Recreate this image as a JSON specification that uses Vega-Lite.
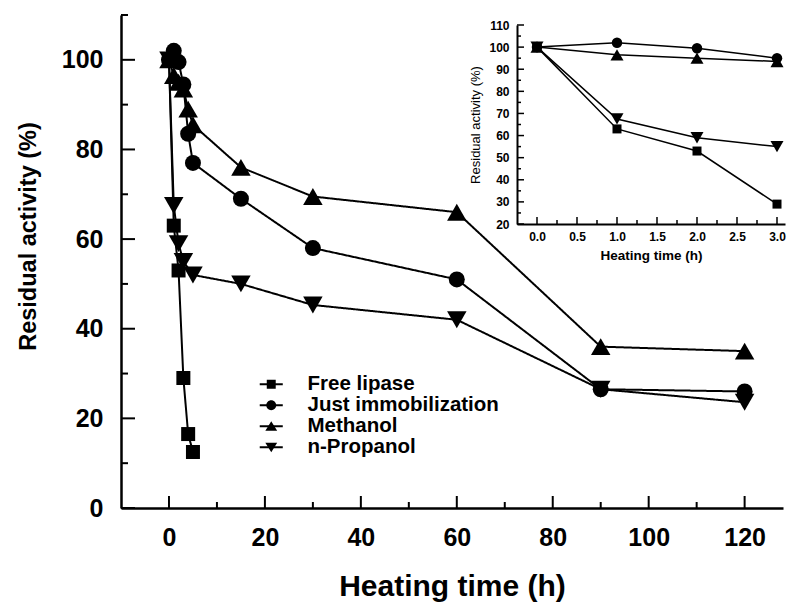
{
  "$schema": "https://vega.github.io/schema/vega-lite/v6.json",
  "width": 662,
  "height": 493,
  "autosize": "none",
  "padding": {"left": 121, "top": 15, "right": 6, "bottom": 96},
  "background": "white",
  "config": {
    "view": {"stroke": null},
    "font": "Liberation Sans",
    "axis": {"grid": false, "ticks": false, "domainColor": "black", "labelColor": "black", "titleColor": "black", "labelFont": "Liberation Sans", "titleFont": "Liberation Sans"}
  },
  "datasets": {
    "main": [
      {"series": "Free lipase", "time": 0, "activity": 100},
      {"series": "Free lipase", "time": 1, "activity": 63},
      {"series": "Free lipase", "time": 2, "activity": 53},
      {"series": "Free lipase", "time": 3, "activity": 29},
      {"series": "Free lipase", "time": 4, "activity": 16.5},
      {"series": "Free lipase", "time": 5, "activity": 12.5},
      {"series": "Just immobilization", "time": 0, "activity": 100},
      {"series": "Just immobilization", "time": 1, "activity": 102},
      {"series": "Just immobilization", "time": 2, "activity": 99.5},
      {"series": "Just immobilization", "time": 3, "activity": 94.5},
      {"series": "Just immobilization", "time": 4, "activity": 83.5},
      {"series": "Just immobilization", "time": 5, "activity": 77},
      {"series": "Just immobilization", "time": 15, "activity": 69},
      {"series": "Just immobilization", "time": 30, "activity": 58},
      {"series": "Just immobilization", "time": 60, "activity": 51},
      {"series": "Just immobilization", "time": 90, "activity": 26.5},
      {"series": "Just immobilization", "time": 120, "activity": 26},
      {"series": "Methanol", "time": 0, "activity": 100},
      {"series": "Methanol", "time": 1, "activity": 96.5},
      {"series": "Methanol", "time": 2, "activity": 95},
      {"series": "Methanol", "time": 3, "activity": 93.5},
      {"series": "Methanol", "time": 4, "activity": 89},
      {"series": "Methanol", "time": 5, "activity": 85.5},
      {"series": "Methanol", "time": 15, "activity": 76},
      {"series": "Methanol", "time": 30, "activity": 69.5},
      {"series": "Methanol", "time": 60, "activity": 66},
      {"series": "Methanol", "time": 90, "activity": 36},
      {"series": "Methanol", "time": 120, "activity": 35},
      {"series": "n-Propanol", "time": 0, "activity": 100},
      {"series": "n-Propanol", "time": 1, "activity": 67.5},
      {"series": "n-Propanol", "time": 2, "activity": 59},
      {"series": "n-Propanol", "time": 3, "activity": 55},
      {"series": "n-Propanol", "time": 5, "activity": 52},
      {"series": "n-Propanol", "time": 15, "activity": 50},
      {"series": "n-Propanol", "time": 30, "activity": 45.3},
      {"series": "n-Propanol", "time": 60, "activity": 42},
      {"series": "n-Propanol", "time": 90, "activity": 26.5},
      {"series": "n-Propanol", "time": 120, "activity": 23.6}
    ],
    "inset": [
      {"series": "Free lipase", "time": 0, "activity": 100},
      {"series": "Free lipase", "time": 1, "activity": 63},
      {"series": "Free lipase", "time": 2, "activity": 53},
      {"series": "Free lipase", "time": 3, "activity": 29},
      {"series": "Just immobilization", "time": 0, "activity": 100},
      {"series": "Just immobilization", "time": 1, "activity": 102},
      {"series": "Just immobilization", "time": 2, "activity": 99.5},
      {"series": "Just immobilization", "time": 3, "activity": 95},
      {"series": "Methanol", "time": 0, "activity": 100},
      {"series": "Methanol", "time": 1, "activity": 96.5},
      {"series": "Methanol", "time": 2, "activity": 95},
      {"series": "Methanol", "time": 3, "activity": 93.5},
      {"series": "n-Propanol", "time": 0, "activity": 100},
      {"series": "n-Propanol", "time": 1, "activity": 67.5},
      {"series": "n-Propanol", "time": 2, "activity": 59},
      {"series": "n-Propanol", "time": 3, "activity": 55}
    ],
    "mainXMajor": [{"v": 0}, {"v": 20}, {"v": 40}, {"v": 60}, {"v": 80}, {"v": 100}, {"v": 120}],
    "mainXMinor": [{"v": 10}, {"v": 30}, {"v": 50}, {"v": 70}, {"v": 90}, {"v": 110}],
    "mainYMajor": [{"v": 0}, {"v": 20}, {"v": 40}, {"v": 60}, {"v": 80}, {"v": 100}],
    "mainYMinor": [{"v": 10}, {"v": 30}, {"v": 50}, {"v": 70}, {"v": 90}, {"v": 110}],
    "insetXMajor": [{"v": 0}, {"v": 0.5}, {"v": 1}, {"v": 1.5}, {"v": 2}, {"v": 2.5}, {"v": 3}],
    "insetXMinor": [{"v": 0.25}, {"v": 0.75}, {"v": 1.25}, {"v": 1.75}, {"v": 2.25}, {"v": 2.75}],
    "insetYMajor": [{"v": 20}, {"v": 30}, {"v": 40}, {"v": 50}, {"v": 60}, {"v": 70}, {"v": 80}, {"v": 90}, {"v": 100}, {"v": 110}],
    "insetYMinor": [{"v": 25}, {"v": 35}, {"v": 45}, {"v": 55}, {"v": 65}, {"v": 75}, {"v": 85}, {"v": 95}, {"v": 105}]
  },
  "layer": [
    {
      "layer": [
        {
          "data": {"name": "main"},
          "mark": {"type": "line", "color": "black", "strokeWidth": 2},
          "encoding": {
            "strokeDash": {
              "field": "series", "type": "nominal",
              "scale": {"domain": ["Free lipase", "Just immobilization", "Methanol", "n-Propanol"], "range": [[1, 0], [1, 0], [1, 0], [1, 0]]},
              "legend": {
                "orient": "none", "legendX": 140, "legendY": 359, "title": null,
                "symbolType": "M-1.44,0H1.44", "symbolSize": 256, "padding": 0, "rowPadding": -1,
                "labelFontSize": 20.5, "labelFontWeight": "bold", "labelFont": "Liberation Sans", "labelColor": "black", "labelOffset": 26, "labelLimit": 400, "labelOpacity": 0,
                "symbolOpacity": 1, "symbolStrokeWidth": 2, "symbolStrokeColor": "black"
              }
            },
            "x": {
              "field": "time", "type": "quantitative",
              "scale": {"domain": [-10, 128], "nice": false, "zero": false},
              "axis": {
                "orient": "bottom", "title": "Heating time (h)",
                "values": [0, 20, 40, 60, 80, 100, 120],
                "ticks": false, "domainWidth": 2.5,
                "labelFontSize": 25, "labelFontWeight": "bold", "labelPadding": 17,
                "titleFontSize": 30, "titleFontWeight": "bold", "titlePadding": 21
              }
            },
            "y": {
              "field": "activity", "type": "quantitative",
              "scale": {"domain": [0, 110], "nice": false, "zero": false},
              "axis": {
                "orient": "left", "title": "Residual activity (%)",
                "values": [0, 20, 40, 60, 80, 100],
                "ticks": false, "domainWidth": 2.5,
                "labelFontSize": 25, "labelFontWeight": "bold", "labelPadding": 18,
                "titleFontSize": 23.5, "titleFontWeight": "bold", "titleX": -81, "titleY": 221
              }
            }
          }
        },
        {
          "data": {"name": "main"},
          "mark": {"type": "point", "filled": true, "color": "black", "opacity": 1},
          "encoding": {
            "x": {"field": "time", "type": "quantitative", "axis": null},
            "y": {"field": "activity", "type": "quantitative", "axis": null},
            "shape": {
              "field": "series", "type": "nominal",
              "scale": {"domain": ["Free lipase", "Just immobilization", "Methanol", "n-Propanol"], "range": ["square", "circle", "triangle-up", "triangle-down"]},
              "legend": null
            },
            "size": {
              "condition": [
                {"test": "datum.series === 'Free lipase'", "value": 196},
                {"test": "datum.series === 'Just immobilization'", "value": 256}
              ],
              "value": 380
            }
          }
        },
        {
          "data": {"name": "main"},
          "mark": {"type": "point", "filled": true, "color": "black"},
          "encoding": {
            "x": {"field": "time", "type": "quantitative", "axis": null},
            "y": {"field": "activity", "type": "quantitative", "axis": null},
            "opacity": {"value": 0},
            "shape": {
              "field": "series", "type": "nominal",
              "scale": {
                "domain": ["Free lipase", "Just immobilization", "Methanol", "n-Propanol"],
                "range": [
                  "M-1.44,0H1.44M-0.56,-0.56H0.56V0.56H-0.56Z",
                  "M-1.44,0H1.44M-0.62,0A0.62,0.62 0 1,0 0.62,0A0.62,0.62 0 1,0 -0.62,0Z",
                  "M-1.44,0H1.44M0,-0.62L0.74,0.56L-0.74,0.56Z",
                  "M-1.44,0H1.44M0,0.62L0.74,-0.56L-0.74,-0.56Z"
                ]
              },
              "legend": {
                "orient": "none", "legendX": 140, "legendY": 359, "title": null,
                "symbolSize": 256, "padding": 0, "rowPadding": -1,
                "labelFontSize": 20.5, "labelFontWeight": "bold", "labelFont": "Liberation Sans", "labelColor": "black", "labelOffset": 26, "labelLimit": 400,
                "symbolOpacity": 1, "symbolFillColor": "black"
              }
            }
          }
        },
        {
          "data": {"name": "mainXMajor"},
          "mark": {"type": "rule", "color": "black", "strokeWidth": 2},
          "encoding": {
            "x": {"field": "v", "type": "quantitative", "scale": {"domain": [-10, 128], "nice": false, "zero": false}, "axis": null},
            "y": {"datum": 0, "type": "quantitative", "scale": {"domain": [0, 110], "nice": false, "zero": false}, "axis": null},
            "y2": {"datum": 2.68}
          }
        },
        {
          "data": {"name": "mainXMinor"},
          "mark": {"type": "rule", "color": "black", "strokeWidth": 2},
          "encoding": {
            "x": {"field": "v", "type": "quantitative", "scale": {"domain": [-10, 128], "nice": false, "zero": false}, "axis": null},
            "y": {"datum": 0, "type": "quantitative", "scale": {"domain": [0, 110], "nice": false, "zero": false}, "axis": null},
            "y2": {"datum": 1.34}
          }
        },
        {
          "data": {"name": "mainYMajor"},
          "mark": {"type": "rule", "color": "black", "strokeWidth": 2},
          "encoding": {
            "y": {"field": "v", "type": "quantitative", "scale": {"domain": [0, 110], "nice": false, "zero": false}, "axis": null},
            "x": {"datum": -10, "type": "quantitative", "scale": {"domain": [-10, 128], "nice": false, "zero": false}, "axis": null},
            "x2": {"datum": -7.08}
          }
        },
        {
          "data": {"name": "mainYMinor"},
          "mark": {"type": "rule", "color": "black", "strokeWidth": 2},
          "encoding": {
            "y": {"field": "v", "type": "quantitative", "scale": {"domain": [0, 110], "nice": false, "zero": false}, "axis": null},
            "x": {"datum": -10, "type": "quantitative", "scale": {"domain": [-10, 128], "nice": false, "zero": false}, "axis": null},
            "x2": {"datum": -8.54}
          }
        }
      ],
      "resolve": {
        "scale": {"shape": "independent"},
        "axis": {"x": "independent", "y": "independent"},
        "legend": {"shape": "independent", "strokeDash": "independent"}
      }
    },
    {
      "layer": [
        {
          "data": {"name": "inset"},
          "mark": {"type": "line", "color": "black", "strokeWidth": 1.5},
          "encoding": {
            "detail": {"field": "series"},
            "x": {
              "field": "time", "type": "quantitative",
              "scale": {"domain": [-0.25, 3.1], "range": [396, 664], "nice": false, "zero": false},
              "axis": {
                "orient": "bottom", "offset": -284, "title": "Heating time (h)",
                "values": [0, 0.5, 1, 1.5, 2, 2.5, 3], "format": ".1f",
                "ticks": false, "domainWidth": 2,
                "labelFontSize": 12, "labelFontWeight": "bold", "labelPadding": 7,
                "titleFontSize": 13.5, "titleFontWeight": "bold", "titlePadding": 6
              }
            },
            "y": {
              "field": "activity", "type": "quantitative",
              "scale": {"domain": [20, 110], "range": [209, 10], "nice": false, "zero": false},
              "axis": {
                "orient": "left", "offset": -396, "title": "Residual activity (%)",
                "values": [20, 30, 40, 50, 60, 70, 80, 90, 100, 110],
                "ticks": false, "domainWidth": 2,
                "labelFontSize": 12, "labelFontWeight": "bold", "labelPadding": 8,
                "titleFontSize": 13, "titleFontWeight": "normal", "titlePadding": 6
              }
            }
          }
        },
        {
          "data": {"name": "inset"},
          "mark": {"type": "point", "filled": true, "color": "black", "opacity": 1},
          "encoding": {
            "x": {"field": "time", "type": "quantitative", "axis": null},
            "y": {"field": "activity", "type": "quantitative", "axis": null},
            "shape": {
              "field": "series", "type": "nominal",
              "scale": {"domain": ["Free lipase", "Just immobilization", "Methanol", "n-Propanol"], "range": ["square", "circle", "triangle-up", "triangle-down"]},
              "legend": null
            },
            "size": {
              "condition": [
                {"test": "datum.series === 'Free lipase'", "value": 81},
                {"test": "datum.series === 'Just immobilization'", "value": 110}
              ],
              "value": 170
            }
          }
        },
        {
          "data": {"name": "insetXMajor"},
          "mark": {"type": "rule", "color": "black", "strokeWidth": 1.5},
          "encoding": {
            "x": {"field": "v", "type": "quantitative", "scale": {"domain": [-0.25, 3.1], "range": [396, 664], "nice": false, "zero": false}, "axis": null},
            "y": {"datum": 20, "type": "quantitative", "scale": {"domain": [20, 110], "range": [209, 10], "nice": false, "zero": false}, "axis": null},
            "y2": {"datum": 23.17}
          }
        },
        {
          "data": {"name": "insetXMinor"},
          "mark": {"type": "rule", "color": "black", "strokeWidth": 1.5},
          "encoding": {
            "x": {"field": "v", "type": "quantitative", "scale": {"domain": [-0.25, 3.1], "range": [396, 664], "nice": false, "zero": false}, "axis": null},
            "y": {"datum": 20, "type": "quantitative", "scale": {"domain": [20, 110], "range": [209, 10], "nice": false, "zero": false}, "axis": null},
            "y2": {"datum": 21.81}
          }
        },
        {
          "data": {"name": "insetYMajor"},
          "mark": {"type": "rule", "color": "black", "strokeWidth": 1.5},
          "encoding": {
            "y": {"field": "v", "type": "quantitative", "scale": {"domain": [20, 110], "range": [209, 10], "nice": false, "zero": false}, "axis": null},
            "x": {"datum": -0.25, "type": "quantitative", "scale": {"domain": [-0.25, 3.1], "range": [396, 664], "nice": false, "zero": false}, "axis": null},
            "x2": {"datum": -0.1625}
          }
        },
        {
          "data": {"name": "insetYMinor"},
          "mark": {"type": "rule", "color": "black", "strokeWidth": 1.5},
          "encoding": {
            "y": {"field": "v", "type": "quantitative", "scale": {"domain": [20, 110], "range": [209, 10], "nice": false, "zero": false}, "axis": null},
            "x": {"datum": -0.25, "type": "quantitative", "scale": {"domain": [-0.25, 3.1], "range": [396, 664], "nice": false, "zero": false}, "axis": null},
            "x2": {"datum": -0.2}
          }
        }
      ],
      "resolve": {
        "axis": {"x": "independent", "y": "independent"}
      }
    }
  ],
  "resolve": {
    "scale": {"x": "independent", "y": "independent", "shape": "independent"},
    "axis": {"x": "independent", "y": "independent"},
    "legend": {"shape": "independent"}
  }
}
